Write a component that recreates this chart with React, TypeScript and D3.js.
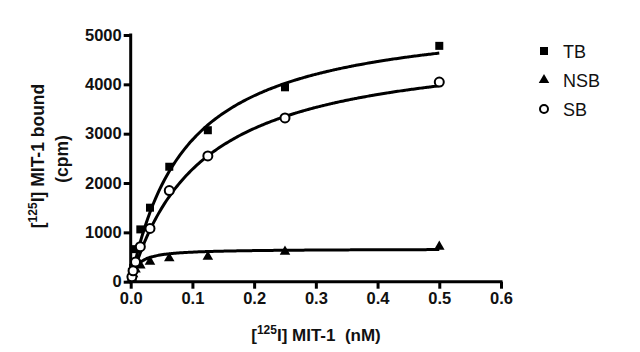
import React, { useEffect, useRef } from "react";
import * as d3 from "d3";

// concentrations (nM)
const conc = [0.00195, 0.0039, 0.0078, 0.0156, 0.03125, 0.0625, 0.125, 0.25, 0.5];
const tb = [200, 280, 660, 1060, 1500, 2330, 3070, 3940, 4780];
const nsb = [80, 150, 250, 330, 406, 474, 507, 608, 710];
const sb = [100, 220, 400, 710, 1080, 1846, 2550, 3320, 4045];

// one-site fits: [Bmax, Kd]
const fitTB = [5470, 0.0903];
const fitNSB = [665, 0.011];
const fitSB = [4875, 0.114];

const xTicks = [0, 0.1, 0.2, 0.3, 0.4, 0.5, 0.6];
const yTicks = [0, 1000, 2000, 3000, 4000, 5000];

const W = 640, H = 352;
const FONT = "Liberation Sans, Arial, sans-serif";

export default function App() {
  const ref = useRef<SVGSVGElement>(null);

  useEffect(() => {
    const svg = d3.select(ref.current);
    svg.selectAll("*").remove();

    const x = d3.scaleLinear().domain([0, 0.6]).range([130.7, 501]);
    const y = d3.scaleLinear().domain([0, 5000]).range([281.7, 35]);

    // axes
    const xAxis = svg.append("g").attr("transform", `translate(0,${y(0)})`)
      .call(d3.axisBottom(x).tickValues(xTicks).tickFormat(d3.format(".1f")).tickSize(7).tickPadding(4));
    const yAxis = svg.append("g").attr("transform", `translate(${x(0)},0)`)
      .call(d3.axisLeft(y).tickValues(yTicks).tickFormat(d3.format("d")).tickSize(7).tickPadding(2));
    [xAxis, yAxis].forEach(a => {
      a.select(".domain").attr("stroke", "#000").attr("stroke-width", 3);
      a.selectAll(".tick line").attr("stroke", "#000").attr("stroke-width", 3);
      a.selectAll(".tick text")
        .attr("fill", "#111")
        .style("font-family", FONT)
        .style("font-size", "16.5px")
        .style("font-weight", "bold");
    });
    yAxis.select(".domain").attr("d", `M0,${y(0) + 1.5}V${y(5000) - 1.5}`);
    xAxis.select(".domain").attr("d", `M${x(0) - 1.5},0H${x(0.6) + 1.5}`);

    // fitted curves
    const curveFor = (fit: number[]) =>
      d3.range(0, 0.5001, 0.0025).map(c => [c, (fit[0] * c) / (fit[1] + c)]);
    const line = d3.line<number[]>().x(d => x(d[0])).y(d => y(d[1])).curve(d3.curveMonotoneX);
    [fitTB, fitSB, fitNSB].forEach(f => {
      svg.append("path")
        .attr("d", line(curveFor(f)))
        .attr("fill", "none")
        .attr("stroke", "#000")
        .attr("stroke-width", 3);
    });

    // markers
    const sq = 8;
    svg.append("g").selectAll("rect").data(conc.map((c, i) => [c, tb[i]])).join("rect")
      .attr("x", d => x(d[0]) - sq / 2).attr("y", d => y(d[1]) - sq / 2)
      .attr("width", sq).attr("height", sq).attr("fill", "#000");

    const tri = d3.symbol().type(d3.symbolTriangle).size(48);
    svg.append("g").selectAll("path").data(conc.map((c, i) => [c, nsb[i]])).join("path")
      .attr("d", tri)
      .attr("transform", d => `translate(${x(d[0])},${y(d[1])})`)
      .attr("fill", "#000");

    svg.append("g").selectAll("circle").data(conc.map((c, i) => [c, sb[i]])).join("circle")
      .attr("cx", d => x(d[0])).attr("cy", d => y(d[1])).attr("r", 4.5)
      .attr("fill", "#fff").attr("stroke", "#000").attr("stroke-width", 2);

    // x title
    const xt = svg.append("text").attr("x", 316).attr("y", 341).attr("text-anchor", "middle")
      .style("white-space", "pre")
      .style("font-family", FONT).style("font-size", "17px").style("font-weight", "bold").attr("fill", "#111");
    xt.append("tspan").text("[");
    xt.append("tspan").attr("dy", -7).style("font-size", "12px").text("125");
    xt.append("tspan").attr("dy", 7).text("I] MIT-1  (nM)");

    // y title
    const yt = svg.append("text").attr("transform", "translate(44,156) rotate(-90)").attr("text-anchor", "middle")
      .style("font-family", FONT).style("font-size", "17.5px").style("font-weight", "bold").attr("fill", "#111");
    yt.append("tspan").text("[");
    yt.append("tspan").attr("dy", -7).style("font-size", "12px").text("125");
    yt.append("tspan").attr("dy", 7).text("I] MIT-1 bound");
    svg.append("text").attr("transform", "translate(68,159) rotate(-90)").attr("text-anchor", "middle")
      .style("font-family", FONT).style("font-size", "17.5px").style("font-weight", "bold").attr("fill", "#111")
      .text("(cpm)");

    // legend
    const lg = svg.append("g");
    const names = ["TB", "NSB", "SB"];
    names.forEach((n, i) => {
      const cy = 51 + i * 29;
      if (i === 0) lg.append("rect").attr("x", 544 - 4).attr("y", cy - 4).attr("width", 8).attr("height", 8).attr("fill", "#000");
      if (i === 1) lg.append("path").attr("d", tri).attr("transform", `translate(544,${cy})`).attr("fill", "#000");
      if (i === 2) lg.append("circle").attr("cx", 544).attr("cy", cy).attr("r", 4).attr("fill", "#fff").attr("stroke", "#000").attr("stroke-width", 2);
      lg.append("text").attr("x", 563).attr("y", cy + 6.5).text(n)
        .style("font-family", FONT).style("font-size", "18px").attr("fill", "#111");
    });
  }, []);

  return (
    <svg ref={ref} width={W} height={H}
      style={{ position: "absolute", left: 0, top: 0, background: "#fff", display: "block" }} />
  );
}
